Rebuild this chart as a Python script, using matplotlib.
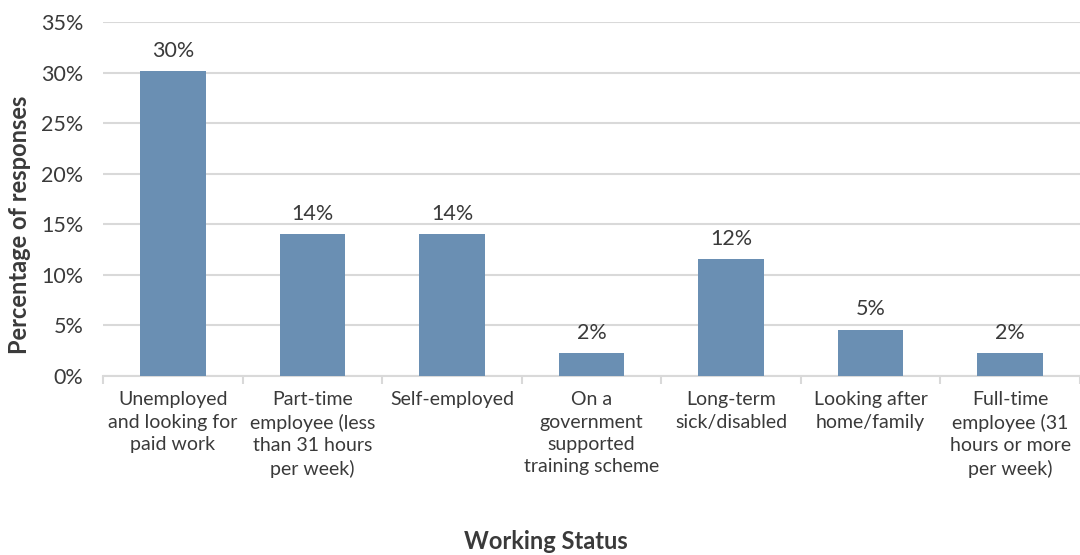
import matplotlib.pyplot as plt
from matplotlib.ticker import FuncFormatter

plt.rcParams['font.family'] = ['Lato', 'DejaVu Sans']

# Share of responses by working status (percent)
statuses = [
    "Unemployed\nand looking for\npaid work",
    "Part-time\nemployee (less\nthan 31 hours\nper week)",
    "Self-employed",
    "On a\ngovernment\nsupported\ntraining scheme",
    "Long-term\nsick/disabled",
    "Looking after\nhome/family",
    "Full-time\nemployee (31\nhours or more\nper week)",
]
shares = [30.2, 14.0, 14.0, 2.3, 11.6, 4.6, 2.3]

text_col = '#3a3a3a'
grid_col = '#d9d9d9'

fig = plt.figure(figsize=(10.8, 5.55), dpi=100)
ax = fig.add_axes([0.0954, 0.3225, 0.9046, 0.6375])

x = range(len(statuses))
bars = ax.bar(x, shares, width=0.47, color='#6a8fb3', zorder=3)

for b, v in zip(bars, shares):
    ax.text(b.get_x() + b.get_width() / 2, v + 1.0, f"{v:.0f}%",
            ha='center', va='bottom', fontsize=15.5, color=text_col)

ax.set_ylim(0, 35)
ax.set_xlim(-0.5, len(statuses) - 0.5)
ax.set_yticks(range(0, 36, 5))
ax.yaxis.set_major_formatter(FuncFormatter(lambda v, p: f"{v:.0f}%"))
ax.grid(axis='y', color=grid_col, linewidth=1.5, zorder=0)

ax.set_xticks(list(x))
ax.set_xticklabels(statuses, fontsize=14, color=text_col, linespacing=1.38)
ax.tick_params(axis='x', length=0, pad=11)
# category separators below the baseline
ax.set_xticks([i - 0.5 for i in range(len(statuses) + 1)], minor=True)
ax.tick_params(axis='x', which='minor', length=6, color=grid_col, width=1.5)
ax.tick_params(axis='y', length=0, labelsize=15.5, labelcolor=text_col, pad=14)

for s in ['top', 'right', 'left']:
    ax.spines[s].set_visible(False)
ax.spines['bottom'].set_color(grid_col)
ax.spines['bottom'].set_linewidth(1.5)

ax.set_ylabel("Percentage of responses", fontsize=17, fontweight='bold',
              color=text_col)
ax.yaxis.set_label_coords(-0.074, 0.427)
fig.text(0.505, 0.003, "Working Status", ha='center', va='bottom',
         fontsize=17, fontweight='bold', color=text_col)

fig.savefig('out.png', dpi=100)
